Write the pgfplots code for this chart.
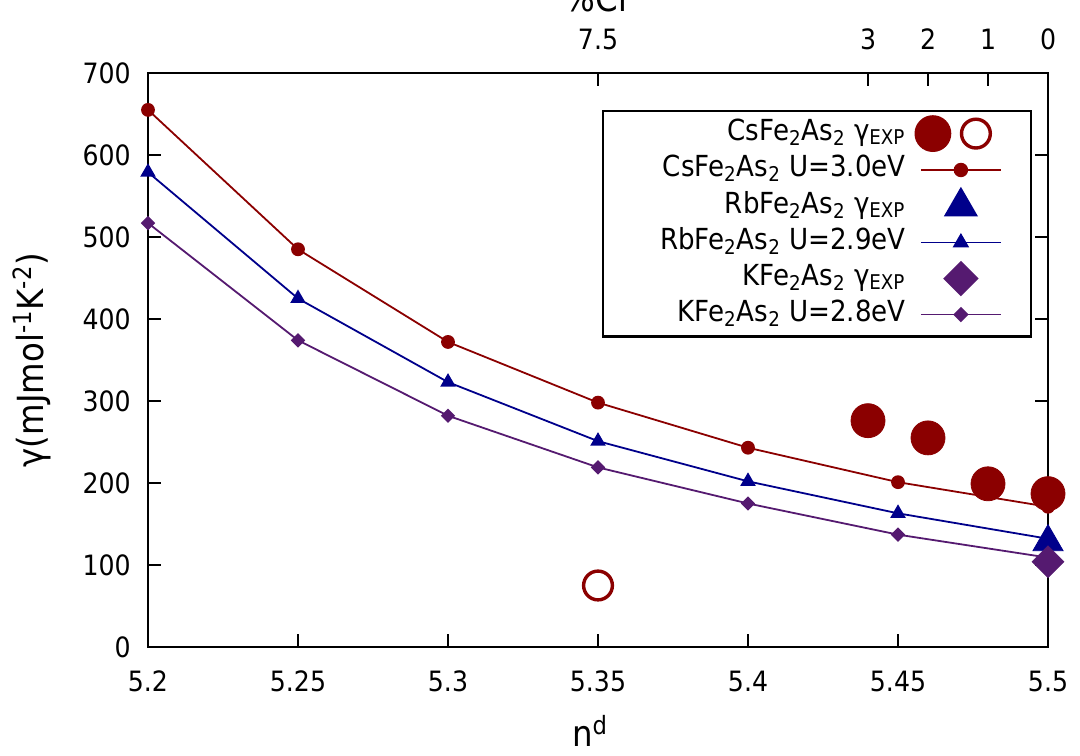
\documentclass[border=0pt]{standalone}
\usepackage{fontspec}
\setmainfont{DejaVu Sans Condensed}
\usepackage{pgfplots}
\pgfplotsset{compat=1.18}
\definecolor{cred}{RGB}{139,0,0}
\definecolor{cblue}{RGB}{0,0,139}
\definecolor{cpurp}{RGB}{85,26,112}
\begin{document}
\begin{tikzpicture}
\begin{axis}[name=main, scale only axis, width=450pt, height=287pt,
  xmin=5.2, xmax=5.5, ymin=0, ymax=700, clip=false,
  xtick={5.2,5.25,5.3,5.35,5.4,5.45,5.5},
  xticklabels={5.2,5.25,5.3,5.35,5.4,5.45,5.5},
  ytick={0,100,200,300,400,500,600,700},
  xtick pos=left, ytick pos=both, tick align=inside,
  major tick length=6.5pt,
  axis line style={line width=1.2pt},
  tick style={line width=1.2pt, black},
  /pgf/number format/assume math mode=true,
  ticklabel style={font=\fontsize{14}{16}\selectfont},
  yticklabel style={anchor=east, inner sep=0pt, xshift=-8.5pt},
  xticklabel style={anchor=base, inner sep=0pt, yshift=-22.5pt},
  xlabel={n\textsuperscript{d}},
  ylabel={γ(mJmol\textsuperscript{-1}K\textsuperscript{-2})},
  label style={font=\fontsize{18}{20}\selectfont},
  xlabel style={at={(axis description cs:0.5,0)}, anchor=base, yshift=-50pt, xshift=-4pt},
  ylabel style={at={(axis description cs:0,0.5)}, anchor=center, yshift=58pt},
  legend plot pos=right, legend cell align=right,
  legend style={at={(1,1)}, anchor=north east, xshift=-8pt, yshift=-18.5pt,
    draw=black, line width=1.2pt, font=\fontsize{14.5}{16}\selectfont,
    inner xsep=14.5pt, inner ysep=2pt, column sep=4.5pt,
    nodes={inner ysep=1pt, inner xsep=0pt, text height=11pt, text depth=4.5pt}},
]
% theory curves
\addplot[forget plot, cred, line width=0.9pt, mark=*, mark size=3pt] coordinates {
(5.20,655) (5.25,485) (5.30,372) (5.35,298) (5.40,243) (5.45,201) (5.50,171)};
\addplot[forget plot, cblue, line width=0.9pt, mark=triangle*, mark size=3.6pt] coordinates {
(5.20,579) (5.25,425) (5.30,323) (5.35,251) (5.40,202) (5.45,163) (5.50,132)};
\addplot[forget plot, cpurp, line width=0.9pt, mark=square*, mark size=2.1pt, mark options={rotate=45}] coordinates {
(5.20,517) (5.25,374) (5.30,282) (5.35,219) (5.40,175) (5.45,137) (5.50,109)};
% experiments
\addplot[forget plot, only marks, cred, mark=*, mark size=8.5pt] coordinates {
(5.44,276) (5.46,255) (5.48,199) (5.50,187)};
\addplot[forget plot, only marks, cred, mark=o, mark size=7.2pt, mark options={line width=1.7pt}] coordinates {
(5.35,75)};
\addplot[forget plot, only marks, cblue, mark=triangle*, mark size=8.7pt] coordinates {
(5.50,128)};
\addplot[forget plot, only marks, cpurp, mark=square*, mark size=5.6pt, mark options={rotate=45}] coordinates {
(5.50,104)};
% legend
\addlegendimage{legend image code/.code={\path[draw=none,fill=none] (-3pt,-9pt) rectangle (40pt,9pt); \fill[cred] (6pt,0pt) circle (8.6pt); \draw[cred, line width=1.7pt] (27.5pt,0pt) circle (7.2pt);}}
\addlegendentry{CsFe\textsubscript{2}As\textsubscript{2} γ\textsubscript{EXP}}
\addlegendimage{legend image code/.code={\path[draw=none,fill=none] (-3pt,-9pt) rectangle (40pt,9pt); \draw[cred, line width=0.9pt] (0pt,0pt) -- (40pt,0pt); \fill[cred] (20pt,0pt) circle (3pt);}}
\addlegendentry{CsFe\textsubscript{2}As\textsubscript{2} U=3.0eV}
\addlegendimage{legend image code/.code={\path[draw=none,fill=none] (-3pt,-9pt) rectangle (40pt,9pt); \fill[cblue] (20pt,0pt) ++(90:8.7pt) -- ++(-120:15.07pt) -- ++(0:15.07pt) -- cycle;}}
\addlegendentry{RbFe\textsubscript{2}As\textsubscript{2} γ\textsubscript{EXP}}
\addlegendimage{legend image code/.code={\path[draw=none,fill=none] (-3pt,-9pt) rectangle (40pt,9pt); \draw[cblue, line width=0.9pt] (0pt,0pt) -- (40pt,0pt); \fill[cblue] (20pt,0pt) ++(90:3.6pt) -- ++(-120:6.24pt) -- ++(0:6.24pt) -- cycle;}}
\addlegendentry{\hspace*{14pt}RbFe\textsubscript{2}As\textsubscript{2} U=2.9eV}
\addlegendimage{legend image code/.code={\path[draw=none,fill=none] (-3pt,-9pt) rectangle (40pt,9pt); \fill[cpurp] (20pt,8pt) -- (28pt,0pt) -- (20pt,-8pt) -- (12pt,0pt) -- cycle;}}
\addlegendentry{KFe\textsubscript{2}As\textsubscript{2} γ\textsubscript{EXP}}
\addlegendimage{legend image code/.code={\path[draw=none,fill=none] (-3pt,-9pt) rectangle (40pt,9pt); \draw[cpurp, line width=0.9pt] (0pt,0pt) -- (40pt,0pt); \fill[cpurp] (20pt,3pt) -- (23pt,0pt) -- (20pt,-3pt) -- (17pt,0pt) -- cycle;}}
\addlegendentry{KFe\textsubscript{2}As\textsubscript{2} U=2.8eV}
\end{axis}
\begin{axis}[scale only axis, width=450pt, height=287pt,
  xmin=5.2, xmax=5.5, ymin=0, ymax=700,
  axis x line*=top, axis y line=none,
  xtick={5.35,5.44,5.46,5.48,5.5},
  xticklabels={7.5,3,2,1,0},
  tick align=inside, major tick length=6.5pt,
  axis line style={line width=1.2pt},
  tick style={line width=1.2pt, black},
  /pgf/number format/assume math mode=true,
  ticklabel style={font=\fontsize{14}{16}\selectfont},
  xticklabel style={anchor=base, inner sep=0pt, yshift=11.5pt},
  xlabel={\%Cr},
  xlabel style={font=\fontsize{18}{20}\selectfont, at={(axis description cs:0.5,1)}, anchor=base, yshift=30.5pt},
]
\end{axis}
\pgfresetboundingbox
\path ([shift={(-74pt,-54.5pt)}]main.south west) rectangle ([shift={(16pt,36.5pt)}]main.north east);
\end{tikzpicture}
\end{document}
